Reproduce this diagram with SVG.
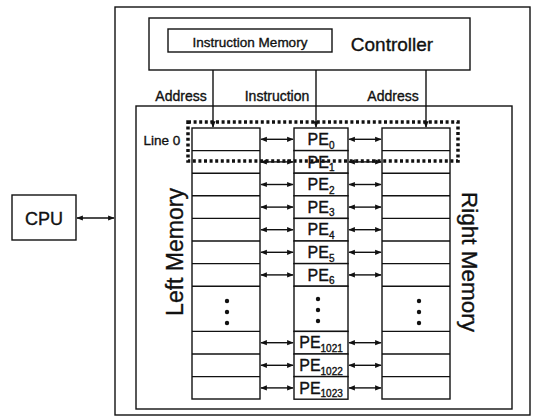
<svg xmlns="http://www.w3.org/2000/svg" width="536" height="416" viewBox="0 0 536 416">
  <defs>
    <style>
      .box { fill: #ffffff; stroke: #111111; stroke-width: 1.4; }
      .frame { fill: none; stroke: #111111; stroke-width: 1.4; }
      .row { stroke: #111111; stroke-width: 1.4; }
      .wire { fill: none; stroke: #111111; stroke-width: 1.4; }
      .dotted { fill: none; stroke: #111111; stroke-width: 3.5; stroke-dasharray: 3 2.6; }
      .t { font-family: "Liberation Sans", Arial, sans-serif; fill: #111111; stroke: #111111; stroke-width: 0.35; }
      .dot { fill: #111111; }
    </style>
    <marker id="head" viewBox="0 0 10 10" refX="9" refY="5" markerWidth="6.5" markerHeight="6.5" markerUnits="userSpaceOnUse" orient="auto-start-reverse">
      <path d="M0,1 L10,5 L0,9 Z" fill="#111111"/>
    </marker>
  </defs>

  <rect width="536" height="416" fill="#ffffff"/>

  <!-- system enclosure -->
  <g id="system">
    <rect class="frame" x="115" y="7" width="415" height="408"/>
  </g>

  <!-- controller with its instruction memory -->
  <g id="controller">
    <rect class="box" x="149" y="18" width="321" height="52"/>
    <text class="t" x="392" y="51" font-size="19" text-anchor="middle">Controller</text>
  </g>
  <g id="instruction-memory">
    <rect class="box" x="168" y="29" width="164" height="23"/>
    <text class="t" x="250" y="47" font-size="13.5" text-anchor="middle">Instruction Memory</text>
  </g>

  <!-- processing array region -->
  <g id="array">
    <rect class="frame" x="136" y="106" width="376" height="303"/>
  </g>

  <!-- CPU -->
  <g id="cpu">
    <rect class="box" x="12" y="195" width="64" height="45"/>
    <text class="t" x="44" y="225" font-size="18" text-anchor="middle">CPU</text>
  </g>

  <!-- left memory: 12 row slots, pitch 22.6 -->
  <g id="left-memory">
    <rect class="box" x="192" y="128" width="68" height="271"/>
    <line class="row" x1="192" y1="150.6" x2="260" y2="150.6"/>
    <line class="row" x1="192" y1="173.2" x2="260" y2="173.2"/>
    <line class="row" x1="192" y1="195.8" x2="260" y2="195.8"/>
    <line class="row" x1="192" y1="218.4" x2="260" y2="218.4"/>
    <line class="row" x1="192" y1="241" x2="260" y2="241"/>
    <line class="row" x1="192" y1="263.6" x2="260" y2="263.6"/>
    <line class="row" x1="192" y1="286.2" x2="260" y2="286.2"/>
    <line class="row" x1="192" y1="331.4" x2="260" y2="331.4"/>
    <line class="row" x1="192" y1="354" x2="260" y2="354"/>
    <line class="row" x1="192" y1="376.6" x2="260" y2="376.6"/>
    <circle class="dot" cx="227" cy="301" r="2.2"/>
    <circle class="dot" cx="227" cy="312" r="2.2"/>
    <circle class="dot" cx="227" cy="323" r="2.2"/>
    <text class="t" font-size="23" text-anchor="middle" transform="translate(183 252) rotate(-90)">Left Memory</text>
  </g>

  <!-- right memory -->
  <g id="right-memory">
    <rect class="box" x="382" y="128" width="68" height="271"/>
    <line class="row" x1="382" y1="150.6" x2="450" y2="150.6"/>
    <line class="row" x1="382" y1="173.2" x2="450" y2="173.2"/>
    <line class="row" x1="382" y1="195.8" x2="450" y2="195.8"/>
    <line class="row" x1="382" y1="218.4" x2="450" y2="218.4"/>
    <line class="row" x1="382" y1="241" x2="450" y2="241"/>
    <line class="row" x1="382" y1="263.6" x2="450" y2="263.6"/>
    <line class="row" x1="382" y1="286.2" x2="450" y2="286.2"/>
    <line class="row" x1="382" y1="331.4" x2="450" y2="331.4"/>
    <line class="row" x1="382" y1="354" x2="450" y2="354"/>
    <line class="row" x1="382" y1="376.6" x2="450" y2="376.6"/>
    <circle class="dot" cx="419" cy="301" r="2.2"/>
    <circle class="dot" cx="419" cy="312" r="2.2"/>
    <circle class="dot" cx="419" cy="323" r="2.2"/>
    <text class="t" font-size="22.5" text-anchor="middle" transform="translate(462 262) rotate(90)">Right Memory</text>
  </g>

  <!-- processing elements -->
  <g id="pe0"><rect class="box" x="294" y="128" width="54" height="22.6"/>
    <text class="t" x="321" y="145" font-size="16" text-anchor="middle">PE<tspan font-size="10" dy="3.5">0</tspan></text></g>
  <g id="pe1"><rect class="box" x="294" y="150.6" width="54" height="22.6"/>
    <text class="t" x="321" y="167.6" font-size="16" text-anchor="middle">PE<tspan font-size="10" dy="3.5">1</tspan></text></g>
  <g id="pe2"><rect class="box" x="294" y="173.2" width="54" height="22.6"/>
    <text class="t" x="321" y="190.2" font-size="16" text-anchor="middle">PE<tspan font-size="10" dy="3.5">2</tspan></text></g>
  <g id="pe3"><rect class="box" x="294" y="195.8" width="54" height="22.6"/>
    <text class="t" x="321" y="212.8" font-size="16" text-anchor="middle">PE<tspan font-size="10" dy="3.5">3</tspan></text></g>
  <g id="pe4"><rect class="box" x="294" y="218.4" width="54" height="22.6"/>
    <text class="t" x="321" y="235.4" font-size="16" text-anchor="middle">PE<tspan font-size="10" dy="3.5">4</tspan></text></g>
  <g id="pe5"><rect class="box" x="294" y="241" width="54" height="22.6"/>
    <text class="t" x="321" y="258" font-size="16" text-anchor="middle">PE<tspan font-size="10" dy="3.5">5</tspan></text></g>
  <g id="pe6"><rect class="box" x="294" y="263.6" width="54" height="22.6"/>
    <text class="t" x="321" y="280.6" font-size="16" text-anchor="middle">PE<tspan font-size="10" dy="3.5">6</tspan></text></g>
  <g id="pe-gap"><rect class="box" x="294" y="286.2" width="54" height="45.2"/>
    <circle class="dot" cx="318" cy="299" r="2.2"/>
    <circle class="dot" cx="318" cy="310" r="2.2"/>
    <circle class="dot" cx="318" cy="321" r="2.2"/></g>
  <g id="pe1021"><rect class="box" x="294" y="331.4" width="54" height="22.6"/>
    <text class="t" x="321" y="348.4" font-size="16" text-anchor="middle">PE<tspan font-size="10" dy="3.5">1021</tspan></text></g>
  <g id="pe1022"><rect class="box" x="294" y="354" width="54" height="22.6"/>
    <text class="t" x="321" y="371" font-size="16" text-anchor="middle">PE<tspan font-size="10" dy="3.5">1022</tspan></text></g>
  <g id="pe1023"><rect class="box" x="294" y="376.6" width="54" height="22.6"/>
    <text class="t" x="321" y="393.6" font-size="16" text-anchor="middle">PE<tspan font-size="10" dy="3.5">1023</tspan></text></g>

  <!-- labels on the controller outputs -->
  <g id="labels">
    <text class="t" x="181" y="101" font-size="14" text-anchor="middle">Address</text>
    <text class="t" x="277" y="101" font-size="14" text-anchor="middle">Instruction</text>
    <text class="t" x="393" y="101" font-size="14" text-anchor="middle">Address</text>
    <text class="t" x="162" y="145" font-size="13.5" text-anchor="middle">Line 0</text>
  </g>

  <!-- connectors -->
  <g id="connectors">
    <line class="wire" x1="213" y1="70" x2="213" y2="127" marker-end="url(#head)"/>
    <line class="wire" x1="316" y1="70" x2="316" y2="127" marker-end="url(#head)"/>
    <line class="wire" x1="426" y1="70" x2="426" y2="127" marker-end="url(#head)"/>
    <line class="wire" x1="77" y1="218" x2="114" y2="218" marker-start="url(#head)" marker-end="url(#head)"/>

    <line class="wire" x1="261" y1="139.3" x2="293" y2="139.3" marker-start="url(#head)" marker-end="url(#head)"/>
    <line class="wire" x1="261" y1="161.9" x2="293" y2="161.9" marker-start="url(#head)" marker-end="url(#head)"/>
    <line class="wire" x1="261" y1="184.5" x2="293" y2="184.5" marker-start="url(#head)" marker-end="url(#head)"/>
    <line class="wire" x1="261" y1="207.1" x2="293" y2="207.1" marker-start="url(#head)" marker-end="url(#head)"/>
    <line class="wire" x1="261" y1="229.7" x2="293" y2="229.7" marker-start="url(#head)" marker-end="url(#head)"/>
    <line class="wire" x1="261" y1="252.3" x2="293" y2="252.3" marker-start="url(#head)" marker-end="url(#head)"/>
    <line class="wire" x1="261" y1="274.9" x2="293" y2="274.9" marker-start="url(#head)" marker-end="url(#head)"/>
    <line class="wire" x1="261" y1="342.7" x2="293" y2="342.7" marker-start="url(#head)" marker-end="url(#head)"/>
    <line class="wire" x1="261" y1="365.3" x2="293" y2="365.3" marker-start="url(#head)" marker-end="url(#head)"/>
    <line class="wire" x1="261" y1="387.9" x2="293" y2="387.9" marker-start="url(#head)" marker-end="url(#head)"/>

    <line class="wire" x1="349" y1="139.3" x2="381" y2="139.3" marker-start="url(#head)" marker-end="url(#head)"/>
    <line class="wire" x1="349" y1="161.9" x2="381" y2="161.9" marker-start="url(#head)" marker-end="url(#head)"/>
    <line class="wire" x1="349" y1="184.5" x2="381" y2="184.5" marker-start="url(#head)" marker-end="url(#head)"/>
    <line class="wire" x1="349" y1="207.1" x2="381" y2="207.1" marker-start="url(#head)" marker-end="url(#head)"/>
    <line class="wire" x1="349" y1="229.7" x2="381" y2="229.7" marker-start="url(#head)" marker-end="url(#head)"/>
    <line class="wire" x1="349" y1="252.3" x2="381" y2="252.3" marker-start="url(#head)" marker-end="url(#head)"/>
    <line class="wire" x1="349" y1="274.9" x2="381" y2="274.9" marker-start="url(#head)" marker-end="url(#head)"/>
    <line class="wire" x1="349" y1="342.7" x2="381" y2="342.7" marker-start="url(#head)" marker-end="url(#head)"/>
    <line class="wire" x1="349" y1="365.3" x2="381" y2="365.3" marker-start="url(#head)" marker-end="url(#head)"/>
    <line class="wire" x1="349" y1="387.9" x2="381" y2="387.9" marker-start="url(#head)" marker-end="url(#head)"/>
  </g>

  <!-- Line 0 highlight -->
  <g id="line0">
    <rect class="dotted" x="188" y="122" width="270" height="39"/>
  </g>
</svg>
